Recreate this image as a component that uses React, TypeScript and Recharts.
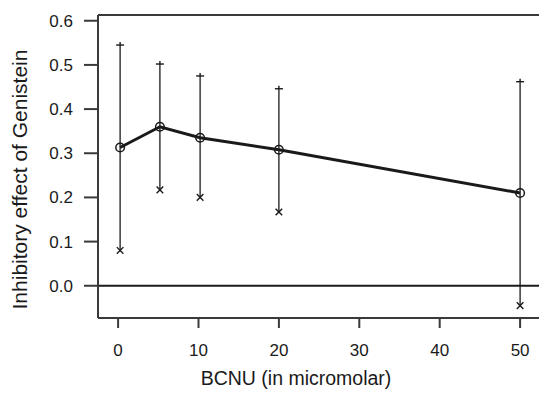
import { ComposedChart, Line, Scatter, XAxis, YAxis, ReferenceLine, ErrorBar } from 'recharts';

// BCNU dose (micromolar) and inhibitory effect of genistein
const dose = [0.25, 5.2, 10.2, 20, 50];
const effect = [0.313, 0.36, 0.335, 0.308, 0.21];
const upper = [0.545, 0.502, 0.475, 0.446, 0.462];
const lower = [0.08, 0.217, 0.2, 0.167, -0.045];

const xTicks = [0, 10, 20, 30, 40, 50];
const yTicks = [0, 0.1, 0.2, 0.3, 0.4, 0.5, 0.6];

const data = dose.map((d, i) => ({
  dose: d,
  effect: effect[i],
  upper: upper[i],
  lower: lower[i],
  err: [effect[i] - lower[i], upper[i] - effect[i]],
}));

const INK = '#1a1a1a';
const FRAME = '#3a3a3a';
const FONT = '"Liberation Sans", Arial, sans-serif';

const PlusMark = (props: any) => {
  const { cx, cy } = props;
  return (
    <g stroke={INK} strokeWidth={1.4}>
      <line x1={cx - 4} x2={cx + 4} y1={cy} y2={cy} />
      <line x1={cx} x2={cx} y1={cy - 3} y2={cy} />
    </g>
  );
};

const CrossMark = (props: any) => {
  const { cx, cy } = props;
  return (
    <g stroke={INK} strokeWidth={1.4}>
      <line x1={cx - 3.3} x2={cx + 3.3} y1={cy - 3.3} y2={cy + 3.3} />
      <line x1={cx - 3.3} x2={cx + 3.3} y1={cy + 3.3} y2={cy - 3.3} />
    </g>
  );
};

export default function App() {
  return (
    <div style={{ position: 'absolute', left: 0, top: 0, width: 539, height: 393, overflow: 'hidden', background: '#fff' }}>
      <ComposedChart width={541} height={393} data={data} margin={{ top: 15, right: 0, bottom: 0, left: 0 }}>
        <XAxis
          type="number"
          dataKey="dose"
          domain={[-2.5, 52.6]}
          ticks={xTicks}
          allowDataOverflow
          height={75}
          tickSize={10}
          tickMargin={16}
          stroke={FRAME}
          strokeWidth={2}
          tick={{ fill: INK, fontSize: 17, fontFamily: FONT }}
          label={{
            content: () => (
              <text x={296} y={385} textAnchor="middle" fill={INK} fontSize={19.5} fontFamily={FONT}>
                BCNU (in micromolar)
              </text>
            ),
          }}
        />
        <YAxis
          type="number"
          domain={[-0.073, 0.613]}
          ticks={yTicks}
          allowDataOverflow
          width={98}
          tickSize={14}
          tickMargin={11}
          stroke={FRAME}
          strokeWidth={2}
          tickFormatter={(v: number) => v.toFixed(1)}
          tick={{ fill: INK, fontSize: 17, fontFamily: FONT }}
          label={{
            content: () => (
              <text
                x={27}
                y={179.5}
                textAnchor="middle"
                transform="rotate(-90 27 179.5)"
                fill={INK}
                fontSize={21}
                fontFamily={FONT}
              >
                Inhibitory effect of Genistein
              </text>
            ),
          }}
        />
        <ReferenceLine y={0.613} stroke={FRAME} strokeWidth={2} />
        <ReferenceLine y={0} stroke={INK} strokeWidth={2} />
        <Line
          dataKey="effect"
          stroke={INK}
          strokeWidth={3}
          dot={{ r: 4.3, fill: 'none', stroke: INK, strokeWidth: 1.5 }}
          isAnimationActive={false}
        >
          <ErrorBar dataKey="err" direction="y" width={0} stroke={INK} strokeWidth={1.3} />
        </Line>
        <Scatter dataKey="upper" shape={<PlusMark />} isAnimationActive={false} />
        <Scatter dataKey="lower" shape={<CrossMark />} isAnimationActive={false} />
      </ComposedChart>
    </div>
  );
}
